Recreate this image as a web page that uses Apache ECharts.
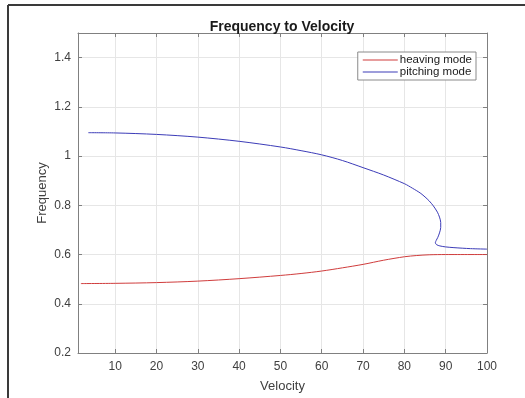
<!DOCTYPE html>
<html>
<head>
<meta charset="utf-8">
<script src="https://cdn.jsdelivr.net/npm/echarts@6/dist/echarts.min.js"></script>
<style>
  html, body { margin: 0; padding: 0; background: #fff; }
  #chart { width: 525px; height: 398px; }
</style>
</head>
<body>
<div id="chart"></div>
<script>
// data
const heavingVel  = [1.7, 10, 20, 30, 40, 50, 55, 60, 65, 70, 75, 80, 83, 86, 90, 100];
const heavingFreq = [0.482, 0.483, 0.486, 0.492, 0.502, 0.515, 0.523, 0.533, 0.546, 0.560, 0.577, 0.591, 0.596, 0.599, 0.600, 0.600];

const pitchingVel  = [3.5, 10, 20, 30, 40, 50, 55, 60, 65, 70, 75, 80, 81, 82, 83, 84, 85, 86, 87, 88, 88.5, 88.8, 88.8, 88.5, 88.1, 87.7, 87.5, 87.8, 88.6, 90, 92, 96, 100];
const pitchingFreq = [1.095, 1.094, 1.088, 1.077, 1.060, 1.037, 1.022, 1.005, 0.982, 0.953, 0.923, 0.888, 0.879, 0.869, 0.859, 0.848, 0.834, 0.818, 0.798, 0.772, 0.752, 0.730, 0.710, 0.688, 0.670, 0.657, 0.648, 0.640, 0.635, 0.631, 0.628, 0.624, 0.622];

const xRange = [1, 100];
const yRange = [0.2, 1.5];
const xTicks = [10, 20, 30, 40, 50, 60, 70, 80, 90, 100];
const yTickStep = 0.2;

const seriesNames = ["heaving mode", "pitching mode"];
const seriesColors = ["#d03c3c", "#3c3cb8"];

const font = "'Liberation Sans', Arial, sans-serif";
const axisGray = "#808080";
const textGray = "#404040";
const gridGray = "#e6e6e6";

const pairs = (xs, ys) => xs.map((x, i) => [x, ys[i]]);

const chart = echarts.init(document.getElementById("chart"), null, { renderer: "canvas" });

// box axes: bottom/left carry labels, top/right only ticks
const boxAxis = (extra) => Object.assign({
  type: "value",
  axisLine: { show: true, lineStyle: { color: axisGray, width: 1 } },
  axisTick: { show: true, inside: true, length: 4, lineStyle: { color: axisGray } },
  splitLine: { show: false },
  axisLabel: { show: false }
}, extra);

const xTick = { show: true, inside: true, length: 4, lineStyle: { color: axisGray }, customValues: xTicks };

chart.setOption({
  backgroundColor: "#ffffff",
  animation: false,
  textStyle: { fontFamily: font },
  title: {
    text: "Frequency to Velocity",
    left: 277,
    top: 15,
    textAlign: "center",
    textStyle: { fontSize: 14, fontWeight: "bold", color: "#1a1a1a", fontFamily: font }
  },
  legend: {
    orient: "vertical",
    right: 49,
    top: 52,
    data: seriesNames,
    icon: "rect",
    itemWidth: 35,
    itemHeight: 1,
    itemGap: 0,
    padding: [2, 4, 2, 5],
    borderColor: "#8a8a8a",
    borderWidth: 1,
    backgroundColor: "#ffffff",
    textStyle: { fontSize: 11.5, color: "#202020", lineHeight: 12, padding: [0, 0, 0, -3] }
  },
  grid: { left: 78, right: 38, top: 33, bottom: 41 },
  xAxis: [
    boxAxis({
      min: xRange[0], max: xRange[1],
      position: "bottom",
      name: "Velocity",
      nameLocation: "middle",
      nameGap: 27,
      nameTextStyle: { fontSize: 13, color: textGray },
      axisTick: xTick,
      axisLabel: { show: true, margin: 8, fontSize: 12, color: textGray, customValues: xTicks },
      splitLine: { show: true, lineStyle: { color: gridGray, width: 1 } }
    }),
    boxAxis({
      min: xRange[0], max: xRange[1],
      position: "top",
      axisTick: xTick
    })
  ],
  yAxis: [
    boxAxis({
      min: yRange[0], max: yRange[1], interval: yTickStep,
      position: "left",
      name: "Frequency",
      nameLocation: "middle",
      nameGap: 29,
      nameMoveOverlap: false,
      nameTextStyle: { fontSize: 13, color: textGray },
      axisLabel: {
        show: true, margin: 7, fontSize: 12, color: textGray,
        formatter: v => (Math.abs(v - 1.5) < 1e-6 ? "" : String(Math.round(v * 10) / 10))
      },
      splitLine: { show: true, lineStyle: { color: gridGray, width: 1 } }
    }),
    boxAxis({
      min: yRange[0], max: yRange[1], interval: yTickStep,
      position: "right"
    })
  ],
  graphic: [
    { type: "line", shape: { x1: 8, y1: 5, x2: 8, y2: 398 }, style: { stroke: "#3a3a3a", lineWidth: 2 } },
    { type: "line", shape: { x1: 8, y1: 5, x2: 525, y2: 5 }, style: { stroke: "#3a3a3a", lineWidth: 2 } }
  ],
  series: [
    {
      name: seriesNames[0],
      type: "line",
      data: pairs(heavingVel, heavingFreq),
      showSymbol: false,
      smooth: 0.3,
      lineStyle: { color: seriesColors[0], width: 1 },
      itemStyle: { color: seriesColors[0] }
    },
    {
      name: seriesNames[1],
      type: "line",
      data: pairs(pitchingVel, pitchingFreq),
      showSymbol: false,
      smooth: 0.3,
      lineStyle: { color: seriesColors[1], width: 1 },
      itemStyle: { color: seriesColors[1] }
    }
  ]
});
</script>
</body>
</html>
